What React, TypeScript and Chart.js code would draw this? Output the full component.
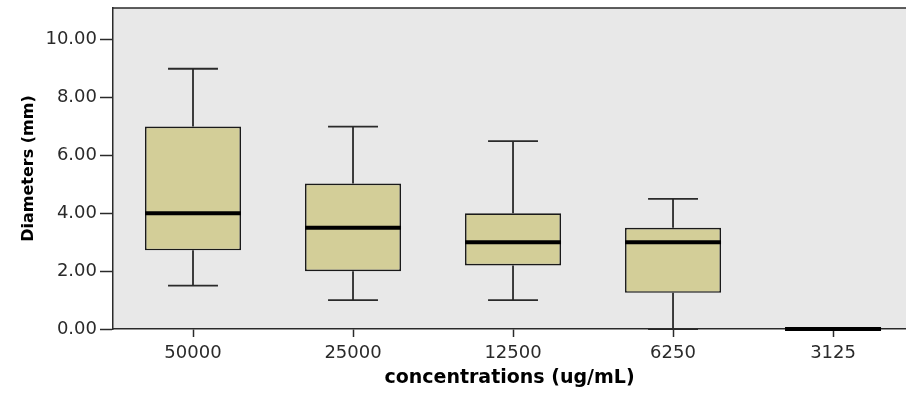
import React, { useEffect, useRef } from "react";
import { Chart, registerables } from "chart.js";

Chart.register(...registerables);

const categories = ["50000", "25000", "12500", "6250", "3125"];
const whiskerMin = [1.5, 1.0, 1.0, 0.0, 0.0];
const q1 = [2.72, 2.0, 2.2, 1.25, 0.0];
const medians = [4.0, 3.5, 3.0, 3.0, 0.0];
const q3 = [7.0, 5.03, 4.0, 3.5, 0.0];
const whiskerMax = [9.0, 7.0, 6.5, 4.5, 0.0];
const yTicks = [0, 2, 4, 6, 8, 10];

const xTitle = "concentrations (ug/mL)";
const yTitle = "Diameters (mm)";

const PLOT_BG = "#e8e8e8";
const BOX_FILL = "#d3ce98";
const LINE = "#2a2a2a";

const boxPlugin = {
  id: "boxExtras",
  beforeDraw(chart: any) {
    const { ctx, chartArea } = chart;
    const xs = chart.scales.x;
    const ys = chart.scales.y;
    const meta = chart.getDatasetMeta(0);
    ctx.save();
    ctx.fillStyle = PLOT_BG;
    ctx.fillRect(chartArea.left, chartArea.top, chartArea.right - chartArea.left, chartArea.bottom - chartArea.top);
    ctx.strokeStyle = LINE;
    ctx.lineWidth = 1.8;
    categories.forEach((_, i) => {
      if (whiskerMax[i] === whiskerMin[i]) return;
      const cx = xs.getPixelForValue(i + 1);
      const w = meta.data[i] ? meta.data[i].width : 96;
      const capHalf = w * 0.26;
      const yMin = ys.getPixelForValue(whiskerMin[i]);
      const yMax = ys.getPixelForValue(whiskerMax[i]);
      const yQ1 = ys.getPixelForValue(q1[i]);
      const yQ3 = ys.getPixelForValue(q3[i]);
      ctx.beginPath();
      ctx.moveTo(cx, yQ3);
      ctx.lineTo(cx, yMax);
      ctx.moveTo(cx - capHalf, yMax);
      ctx.lineTo(cx + capHalf, yMax);
      ctx.moveTo(cx, yQ1);
      ctx.lineTo(cx, yMin);
      ctx.moveTo(cx - capHalf, yMin);
      ctx.lineTo(cx + capHalf, yMin);
      ctx.stroke();
    });
    ctx.restore();
  },
  afterDatasetsDraw(chart: any) {
    const { ctx } = chart;
    const xs = chart.scales.x;
    const ys = chart.scales.y;
    const meta = chart.getDatasetMeta(0);
    ctx.save();
    ctx.strokeStyle = "#000000";
    ctx.lineWidth = 4;
    categories.forEach((_, i) => {
      const cx = xs.getPixelForValue(i + 1);
      const w = meta.data[i] ? meta.data[i].width : 96;
      const y = ys.getPixelForValue(medians[i]);
      ctx.beginPath();
      ctx.moveTo(cx - w / 2, y);
      ctx.lineTo(cx + w / 2, y);
      ctx.stroke();
    });
    ctx.restore();
  },
  afterDraw(chart: any) {
    const { ctx, chartArea } = chart;
    ctx.save();
    ctx.strokeStyle = LINE;
    ctx.lineWidth = 1.5;
    ctx.beginPath();
    ctx.moveTo(chartArea.left, chartArea.top);
    ctx.lineTo(chartArea.right, chartArea.top);
    ctx.stroke();
    ctx.restore();
  },
};

export default function App() {
  const canvasRef = useRef<HTMLCanvasElement | null>(null);

  useEffect(() => {
    if (!canvasRef.current) return;
    const chart = new Chart(canvasRef.current, {
      type: "bar",
      data: {
        datasets: [
          {
            data: categories.map((_, i) => ({ x: i + 1, y: [q1[i], q3[i]] })) as any,
            backgroundColor: BOX_FILL,
            borderColor: "#1a1a1a",
            borderWidth: 1.6,
            borderSkipped: false,
            barPercentage: 0.6,
            categoryPercentage: 1,
          },
        ],
      },
      options: {
        animation: false,
        responsive: true,
        maintainAspectRatio: false,
        layout: { padding: { top: 8, left: 0, right: 0, bottom: 0 } },
        plugins: {
          legend: { display: false },
          tooltip: { enabled: false },
        },
        scales: {
          x: {
            type: "linear",
            offset: false,
            min: 0.5,
            max: 5.456,
            afterBuildTicks: (scale: any) => {
              scale.ticks = categories.map((_, i) => ({ value: i + 1 }));
            },
            afterFit: (scale: any) => {
              scale.height = 65;
              scale.paddingLeft = 0;
              scale.paddingRight = 0;
            },
            ticks: {
              callback: (v: any) => categories[Number(v) - 1] ?? "",
              color: "#2a2a2a",
              font: { family: "DejaVu Sans", size: 18 },
              padding: 6,
              maxRotation: 0,
              autoSkip: false,
            },
            grid: {
              offset: false,
              drawOnChartArea: false,
              drawTicks: true,
              tickLength: 8,
              tickWidth: 1.5,
              tickColor: LINE,
            },
            border: { display: true, color: LINE, width: 1.5 },
            title: {
              display: true,
              text: xTitle,
              color: "#000000",
              font: { family: "DejaVu Sans", size: 19, weight: "bold" },
              padding: { top: 0, bottom: 5 },
            },
          },
          y: {
            type: "linear",
            min: 0,
            max: 11.1,
            afterBuildTicks: (scale: any) => {
              scale.ticks = yTicks.map((v) => ({ value: v }));
            },
            afterFit: (scale: any) => {
              scale.width = 113;
              scale.paddingTop = 0;
              scale.paddingBottom = 0;
            },
            ticks: {
              callback: (v: any) => Number(v).toFixed(2),
              color: "#2a2a2a",
              font: { family: "DejaVu Sans", size: 18 },
              padding: 3,
            },
            grid: {
              drawOnChartArea: false,
              drawTicks: true,
              tickLength: 13,
              tickWidth: 1.5,
              tickColor: LINE,
            },
            border: { display: true, color: LINE, width: 1.5 },
            title: {
              display: true,
              text: yTitle,
              color: "#000000",
              font: { family: "DejaVu Sans", size: 16, weight: "bold" },
              padding: { top: 19, bottom: 0 },
            },
          },
        },
      },
      plugins: [boxPlugin],
    } as any);
    return () => chart.destroy();
  }, []);

  return (
    <div style={{ position: "fixed", left: 0, top: 0, width: 906, height: 394, background: "#ffffff" }}>
      <canvas ref={canvasRef} />
    </div>
  );
}
